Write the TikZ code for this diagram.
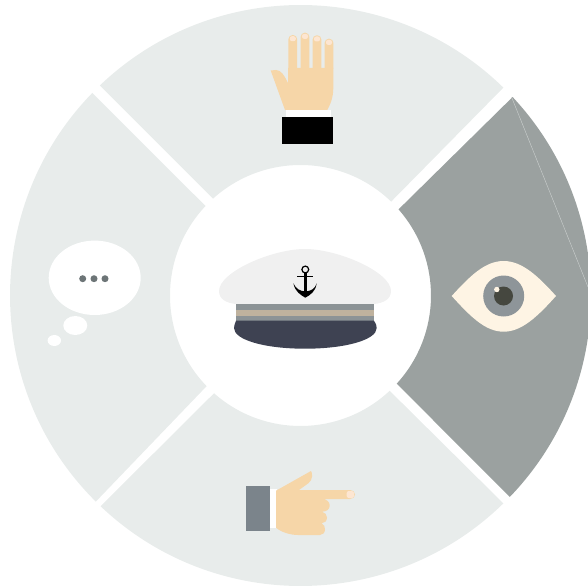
\documentclass[tikz,border=0pt]{standalone}
\usepackage{xcolor}
\usepackage{tikz}
\definecolor{tilelight}{HTML}{E8ECEB}
\definecolor{tiledark}{HTML}{9BA1A0}
\definecolor{skin}{HTML}{F6D6A8}
\definecolor{nail}{HTML}{FDE6D2}
\definecolor{crown}{HTML}{F0F0F0}
\definecolor{hatband}{HTML}{8C9396}
\definecolor{hatstripe}{HTML}{BFB29E}
\definecolor{visor}{HTML}{3E4252}
\definecolor{sclera}{HTML}{FEF4E4}
\definecolor{iris}{HTML}{8E9599}
\definecolor{pupil}{HTML}{45473F}
\definecolor{sleeve}{HTML}{7B848B}
\definecolor{bubbledot}{HTML}{6D7577}
\tikzset{
    lighttile/.style={fill=tilelight},
    darktile/.style={fill=tiledark},
    skinfill/.style={fill=skin},
    nailfill/.style={fill=nail},
    bubble/.style={fill=white},
}
\newcommand{\sectortile}[5]{%
    \fill[#1] ([shift={(#2:290.5)}]C) arc[start angle=#2, end angle=#3, radius=290.5]
        -- ([shift={(#5:130.5)}]C) arc[start angle=#5, end angle=#4, radius=130.5] -- cycle;
}
\begin{document}
\begin{tikzpicture}[x=0.02cm, y=-0.02cm]
        \useasboundingbox (0,0) rectangle (588,588);
        \coordinate (C) at (300.5,295.5);

        % Draw the four tiles
        \sectortile{lighttile}{-45.7}{-133.7}{-46}{-132.1}
        \sectortile{lighttile}{-135.8}{-225.2}{-136.7}{-224}
        \sectortile{lighttile}{-226.5}{-314.3}{-228.5}{-313.1}
        \sectortile{darktile}{-43.1}{43.9}{-41.3}{42.5}

        % Faint seam on the dark tile
        \draw[tilelight!70!tiledark, line width=0.2pt] (511.5,97) -- (588,287);

        % Captain's cap
        \fill[crown] (236,304) .. controls (226,303) and (219,299) .. (219,291)
            .. controls (219,272) and (272,249) .. (305,249)
            .. controls (338,249) and (391,272) .. (391,291)
            .. controls (391,299) and (384,303) .. (374,304) -- cycle;
        \fill[hatband] (236,304) rectangle (374,321);
        \fill[hatstripe] (236,310) rectangle (374,316);
        \fill[visor] (236,320.7) -- (374,320.7) .. controls (376,323) and (376.7,326) .. (376.7,328)
            .. controls (376.7,340) and (345,348.7) .. (305,348.7)
            .. controls (265,348.7) and (234,340) .. (234,328)
            .. controls (234,326) and (235,323) .. (236,320.7) -- cycle;

        % Anchor on the cap
        \draw[black, line width=0.7pt] (305.3,269.5) circle (3.4);
        \draw[black, line width=0.7pt] (297.3,276.7) -- (313.3,276.7);
        \draw[black, line width=1.6pt] (305.3,273) -- (305.3,295);
        \fill[black] (293.4,283.3) .. controls (295,292) and (301,295) .. (305.3,297.7)
            .. controls (310,295) and (315.5,292) .. (316.7,283.3)
            .. controls (315,289) and (311,291) .. (305.3,291.5)
            .. controls (300,291) and (296,289) .. (293.4,283.3) -- cycle;

        % Raised hand with cuff
        \fill[skinfill] (288,68) -- (333.3,68) -- (333.3,88) .. controls (333.3,98) and (330,105) .. (327.3,110)
            -- (285,110) -- (270.7,70.5) -- (276,70) .. controls (281,70) and (284,75) .. (288,83) -- cycle;
        \foreach \fingerx/\fingertop in {292.8/35, 305/32.7, 317/35.3, 329/38.7} {
            \fill[skinfill, rounded corners=2.4pt] (\fingerx-4.4,72) rectangle (\fingerx+4.4,\fingertop);
            \fill[nailfill, rounded corners=1.2pt] (\fingerx-3,\fingertop+1.2) rectangle (\fingerx+3,\fingertop+6.2);
        }
        \fill[white] (286,110) rectangle (331,117);
        \fill[black] (282,116.7) rectangle (333,144);

        % Eye
        \fill[sclera] (451.7,296) .. controls (470,276) and (485,261) .. (503.7,261)
            .. controls (522,261) and (538,276) .. (556,296)
            .. controls (538,316) and (522,331.7) .. (503.7,331.7)
            .. controls (485,331.7) and (470,316) .. (451.7,296) -- cycle;
        \fill[iris] (503.7,296) circle (20.5);
        \fill[pupil] (503.5,296) circle (9.5);
        \fill[sclera] (496.8,289.5) circle (2.7);

        % Pointing hand with sleeve
        \fill[white] (270,488.7) rectangle (277,528.3);
        \fill[sleeve] (246,486) rectangle (270,531);
        \fill[skinfill] (276,490.7) -- (311,471) .. controls (312.7,473) and (313,480) .. (308.3,483.3)
            -- (299,490) -- (350,490) .. controls (353,490) and (355,492) .. (355,494.5)
            .. controls (355,497) and (353,499) .. (350,499) -- (321.7,499)
            .. controls (327,499) and (329.7,502) .. (329.7,505.5)
            .. controls (329.7,509) and (327,511.7) .. (322,511.7)
            .. controls (325,512) and (327,515) .. (327,517.5)
            .. controls (327,521) and (324.5,523.3) .. (321.7,523.3)
            .. controls (324,524) and (325,527) .. (325,529.3)
            .. controls (325,532.5) and (323,535) .. (320,535)
            -- (298,535) .. controls (290,535) and (281,532) .. (276,527.7) -- cycle;
        \fill[nailfill, rounded corners=1.2pt] (346.7,491) rectangle (354,498);

        % Thought bubble
        \fill[bubble] (94.7,277.8) ellipse (46 and 37.2);
        \fill[bubble] (75.3,325.5) ellipse (12 and 9.5);
        \fill[bubble] (54.3,340.5) ellipse (6.7 and 5.5);
        \foreach \dotx in {82.7,94,105} {
            \fill[bubbledot] (\dotx,278.7) circle (3.5);
        }
\end{tikzpicture}
\end{document}
